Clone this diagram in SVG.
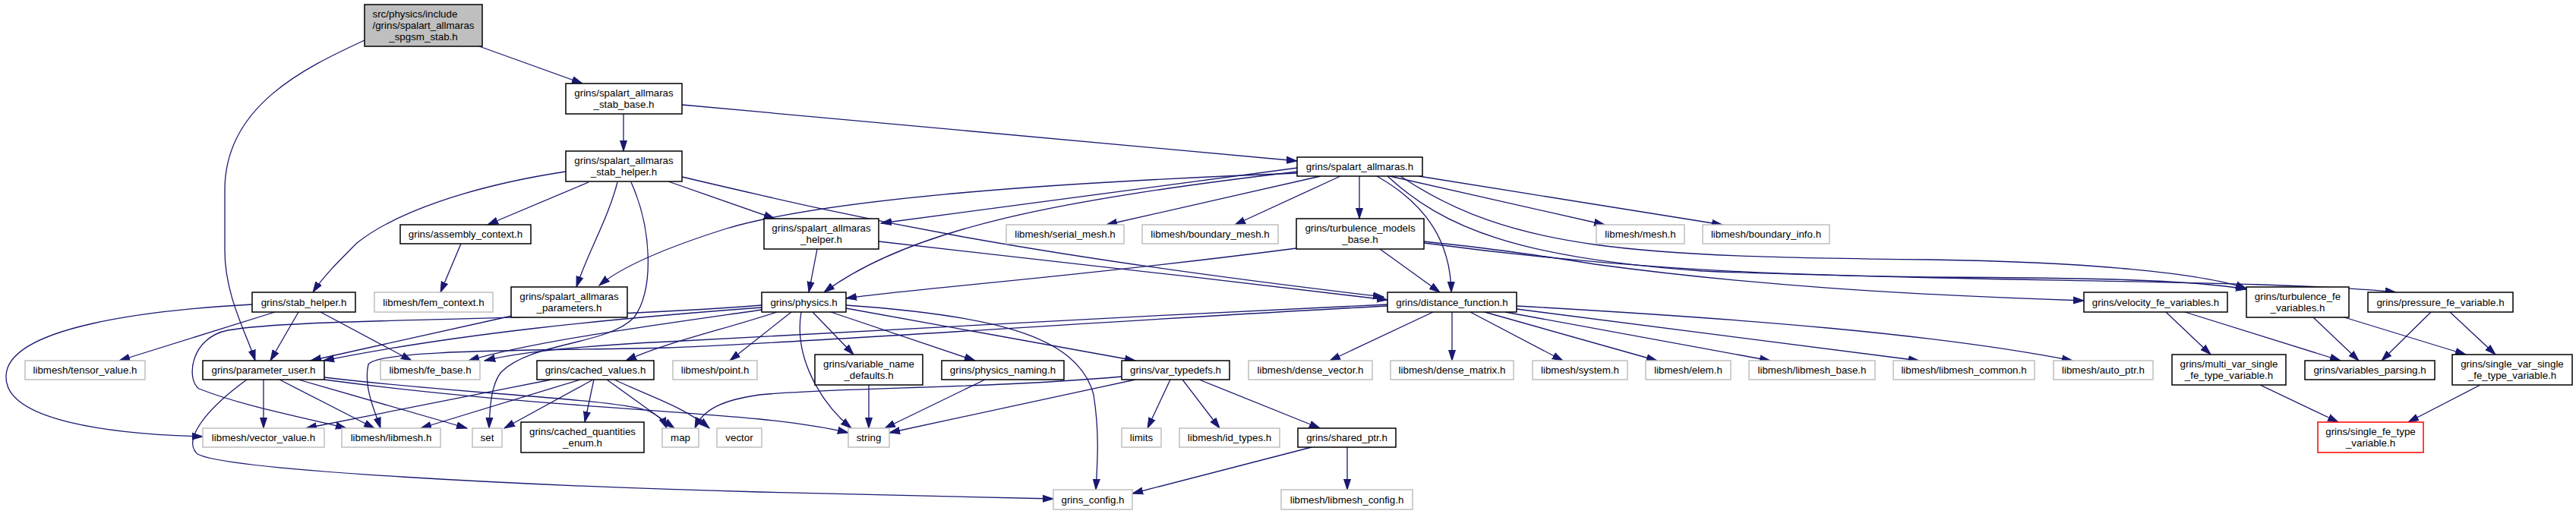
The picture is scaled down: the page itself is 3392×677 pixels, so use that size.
<svg xmlns="http://www.w3.org/2000/svg" width="3392" height="677" viewBox="0 0 3392 677">
<style>
text{font-family:"Liberation Sans",Arial,sans-serif;font-size:13.33px;fill:#000;text-anchor:middle}
.node rect{fill:#fff;stroke:#000;stroke-width:1.5}
.node.ext rect{stroke:#bfbfbf}
.node.root rect{fill:#bfbfbf}
.node.trunc rect{stroke:#ff0000}
#edges path{fill:none;stroke:#191970;stroke-width:1.3;marker-end:url(#arr)}
</style>
<defs>
<marker id="arr" markerUnits="userSpaceOnUse" markerWidth="15" markerHeight="11" refX="14" refY="5.5" orient="auto">
<path d="M0,1 L14,5.5 L0,10 z" fill="#191970" stroke="#191970" stroke-width="1"/>
</marker>
</defs>
<rect width="3392" height="677" fill="#fff"/>
<g id="edges">
<path d="M631,61 L767,110"/>
<path d="M480,53 C400,90 296,140 296,250 L296,330 C296,390 325,440 336,475"/>
<path d="M821,150 L821,199"/>
<path d="M898,138 L1708,212"/>
<path d="M775,240 L642,296"/>
<path d="M745,226 C620,245 520,280 470,320 C445,345 425,365 412,385"/>
<path d="M813,240 C800,290 775,330 759,378"/>
<path d="M880,239 L1020,288"/>
<path d="M898,233 C1100,280 1300,330 1822,391"/>
<path d="M831,240 C858,300 862,380 835,418 C800,455 700,450 660,490 C648,505 645,530 644,564"/>
<path d="M1709,228 C1400,240 1100,260 960,300 C880,325 820,350 789,376"/>
<path d="M1709,221 L1160,294"/>
<path d="M1709,226 C1400,262 1200,300 1085,385"/>
<path d="M1739,232 L1457,296"/>
<path d="M1765,232 L1626,296"/>
<path d="M1790,232 L1790,288"/>
<path d="M1813,232 C1880,270 1910,320 1911,385"/>
<path d="M1830,232 L2113,296"/>
<path d="M1868,232 L2268,296"/>
<path d="M1844,232 C1990,330 2150,338 2542,342 C2750,345 2900,360 2958,380"/>
<path d="M1827,232 C1900,300 2000,340 2242,357 C2600,372 3000,368 3155,385"/>
<path d="M1875,320 C2100,350 2300,362 2542,365 C2750,366 2880,368 2958,381"/>
<path d="M1875,318 C1950,326 2000,332 2100,348 C2300,375 2500,388 2744,396"/>
<path d="M1707,327 C1400,367 1200,380 1114,393"/>
<path d="M1817,328 L1896,385"/>
<path d="M1076,328 L1065,385"/>
<path d="M1157,318 C1400,345 1600,368 1827,395"/>
<path d="M1042,411 L961,475"/>
<path d="M1070,411 L1124,467"/>
<path d="M1094,411 L1284,475"/>
<path d="M1114,406 L1495,475"/>
<path d="M1055,411 C1045,470 1080,530 1121,564"/>
<path d="M1114,402 C1300,415 1420,440 1440,520 C1448,570 1445,610 1443,645"/>
<path d="M1023,411 C950,435 880,450 824,475"/>
<path d="M1003,405 C800,420 600,440 426,475"/>
<path d="M1003,408 C850,430 700,450 617,475"/>
<path d="M1003,402 C700,425 400,418 300,435 C250,445 245,500 262,512 C320,535 400,550 456,564"/>
<path d="M1887,411 L1751,475"/>
<path d="M1912,411 L1912,475"/>
<path d="M1936,411 L2058,475"/>
<path d="M1955,411 L2182,475"/>
<path d="M1982,411 L2331,475"/>
<path d="M1997,407 L2527,475"/>
<path d="M1997,403 C2300,420 2550,440 2729,475"/>
<path d="M1827,401 C1500,415 1100,440 880,450 C750,456 680,465 638,475"/>
<path d="M1827,403 C1500,420 1000,455 880,458 C700,462 500,460 485,480 C478,510 495,545 501,564"/>
<path d="M362,411 L157,475"/>
<path d="M393,411 L356,475"/>
<path d="M422,411 L542,475"/>
<path d="M332,401 C200,408 10,430 8,495 C5,555 150,572 267,575"/>
<path d="M674,416 L409,475"/>
<path d="M347,500 L347,564"/>
<path d="M368,500 L493,564"/>
<path d="M393,500 L615,564"/>
<path d="M427,497 C600,518 800,525 850,540 C865,545 874,555 878,564"/>
<path d="M427,500 C650,530 850,538 1000,552 C1060,558 1100,566 1117,570"/>
<path d="M325,500 C270,540 240,580 260,598 C300,620 700,640 1000,648 C1200,652 1300,655 1387,657"/>
<path d="M726,500 L403,564"/>
<path d="M764,500 L554,564"/>
<path d="M781,500 L664,564"/>
<path d="M782,500 L770,556"/>
<path d="M799,500 L888,564"/>
<path d="M809,500 C850,520 900,535 934,564"/>
<path d="M1495,500 L1171,570"/>
<path d="M1477,496 C1300,512 1100,510 1000,520 C950,527 925,540 915,564"/>
<path d="M1541,500 L1511,564"/>
<path d="M1557,500 L1606,564"/>
<path d="M1579,500 L1738,564"/>
<path d="M1144,507 L1144,564"/>
<path d="M1297,500 L1165,564"/>
<path d="M1727,589 L1491,650"/>
<path d="M1774,589 L1774,645"/>
<path d="M607,321 L580,385"/>
<path d="M2852,411 L2911,467"/>
<path d="M2877,411 L3082,475"/>
<path d="M3046,418 L3106,475"/>
<path d="M3087,418 L3247,467"/>
<path d="M3201,411 L3136,475"/>
<path d="M3226,411 L3286,467"/>
<path d="M2976,507 L3079,556"/>
<path d="M3266,507 L3171,556"/>
</g>
<g id="nodes">
<g id="n_root" class="node root"><rect x="480" y="6" width="155" height="55"/><text x="490.5" y="22.5" style="text-anchor:start">src/physics/include</text><text x="557.5" y="37.5">/grins/spalart_allmaras</text><text x="557.5" y="52.5">_spgsm_stab.h</text></g>
<g id="n_stabbase" class="node"><rect x="745" y="110" width="153" height="40"/><text x="821.5" y="126.5">grins/spalart_allmaras</text><text x="821.5" y="141.5">_stab_base.h</text></g>
<g id="n_stabhelper" class="node"><rect x="745" y="199" width="153" height="40"/><text x="821.5" y="215.5">grins/spalart_allmaras</text><text x="821.5" y="230.5">_stab_helper.h</text></g>
<g id="n_sa" class="node"><rect x="1708" y="207" width="165" height="25"/><text x="1790.5" y="224">grins/spalart_allmaras.h</text></g>
<g id="n_asm" class="node"><rect x="527" y="296" width="172" height="25"/><text x="613" y="313">grins/assembly_context.h</text></g>
<g id="n_sahelper" class="node"><rect x="1006" y="288" width="151" height="40"/><text x="1081.5" y="304.5">grins/spalart_allmaras</text><text x="1081.5" y="319.5">_helper.h</text></g>
<g id="n_serial" class="node ext"><rect x="1325" y="296" width="155" height="25"/><text x="1402.5" y="313">libmesh/serial_mesh.h</text></g>
<g id="n_bmesh" class="node ext"><rect x="1504" y="296" width="179" height="25"/><text x="1593.5" y="313">libmesh/boundary_mesh.h</text></g>
<g id="n_tmb" class="node"><rect x="1707" y="288" width="168" height="40"/><text x="1791" y="304.5">grins/turbulence_models</text><text x="1791" y="319.5">_base.h</text></g>
<g id="n_mesh" class="node ext"><rect x="2102" y="296" width="116" height="25"/><text x="2160" y="313">libmesh/mesh.h</text></g>
<g id="n_binfo" class="node ext"><rect x="2242" y="296" width="167" height="25"/><text x="2325.5" y="313">libmesh/boundary_info.h</text></g>
<g id="n_stabh" class="node"><rect x="332" y="385" width="136" height="26"/><text x="400" y="402.7">grins/stab_helper.h</text></g>
<g id="n_fem" class="node ext"><rect x="493" y="385" width="156" height="26"/><text x="571" y="402.7">libmesh/fem_context.h</text></g>
<g id="n_params" class="node"><rect x="673" y="378" width="153" height="40"/><text x="749.5" y="394.5">grins/spalart_allmaras</text><text x="749.5" y="409.5">_parameters.h</text></g>
<g id="n_physics" class="node"><rect x="1003" y="385" width="111" height="26"/><text x="1058.5" y="402.7">grins/physics.h</text></g>
<g id="n_dist" class="node"><rect x="1827" y="385" width="170" height="26"/><text x="1912" y="402.7">grins/distance_function.h</text></g>
<g id="n_vel" class="node"><rect x="2744" y="385" width="189" height="26"/><text x="2838.5" y="402.7">grins/velocity_fe_variables.h</text></g>
<g id="n_turbfe" class="node"><rect x="2958" y="378" width="135" height="40"/><text x="3025.5" y="394.5">grins/turbulence_fe</text><text x="3025.5" y="409.5">_variables.h</text></g>
<g id="n_press" class="node"><rect x="3118" y="385" width="191" height="26"/><text x="3213.5" y="402.7">grins/pressure_fe_variable.h</text></g>
<g id="n_tensor" class="node ext"><rect x="33" y="475" width="158" height="25"/><text x="112" y="492">libmesh/tensor_value.h</text></g>
<g id="n_puser" class="node"><rect x="267" y="475" width="160" height="25"/><text x="347" y="492">grins/parameter_user.h</text></g>
<g id="n_febase" class="node ext"><rect x="501" y="475" width="131" height="25"/><text x="566.5" y="492">libmesh/fe_base.h</text></g>
<g id="n_cached" class="node"><rect x="707" y="475" width="154" height="25"/><text x="784" y="492">grins/cached_values.h</text></g>
<g id="n_point" class="node ext"><rect x="886" y="475" width="111" height="25"/><text x="941.5" y="492">libmesh/point.h</text></g>
<g id="n_vnd" class="node"><rect x="1073" y="467" width="142" height="40"/><text x="1144" y="483.5">grins/variable_name</text><text x="1144" y="498.5">_defaults.h</text></g>
<g id="n_pnaming" class="node"><rect x="1240" y="475" width="161" height="25"/><text x="1320.5" y="492">grins/physics_naming.h</text></g>
<g id="n_vtd" class="node"><rect x="1477" y="475" width="142" height="25"/><text x="1548" y="492">grins/var_typedefs.h</text></g>
<g id="n_dvec" class="node ext"><rect x="1644" y="475" width="163" height="25"/><text x="1725.5" y="492">libmesh/dense_vector.h</text></g>
<g id="n_dmat" class="node ext"><rect x="1831" y="475" width="162" height="25"/><text x="1912" y="492">libmesh/dense_matrix.h</text></g>
<g id="n_system" class="node ext"><rect x="2018" y="475" width="125" height="25"/><text x="2080.5" y="492">libmesh/system.h</text></g>
<g id="n_elem" class="node ext"><rect x="2167" y="475" width="112" height="25"/><text x="2223" y="492">libmesh/elem.h</text></g>
<g id="n_lbase" class="node ext"><rect x="2303" y="475" width="166" height="25"/><text x="2386" y="492">libmesh/libmesh_base.h</text></g>
<g id="n_lcommon" class="node ext"><rect x="2493" y="475" width="186" height="25"/><text x="2586" y="492">libmesh/libmesh_common.h</text></g>
<g id="n_autoptr" class="node ext"><rect x="2704" y="475" width="131" height="25"/><text x="2769.5" y="492">libmesh/auto_ptr.h</text></g>
<g id="n_multivar" class="node"><rect x="2860" y="467" width="150" height="40"/><text x="2935" y="483.5">grins/multi_var_single</text><text x="2935" y="498.5">_fe_type_variable.h</text></g>
<g id="n_vparse" class="node"><rect x="3035" y="475" width="171" height="25"/><text x="3120.5" y="492">grins/variables_parsing.h</text></g>
<g id="n_singlevar" class="node"><rect x="3229" y="467" width="158" height="40"/><text x="3308" y="483.5">grins/single_var_single</text><text x="3308" y="498.5">_fe_type_variable.h</text></g>
<g id="n_vecval" class="node ext"><rect x="267" y="564" width="160" height="25"/><text x="347" y="581">libmesh/vector_value.h</text></g>
<g id="n_libmesh" class="node ext"><rect x="450" y="564" width="130" height="25"/><text x="515" y="581">libmesh/libmesh.h</text></g>
<g id="n_set" class="node ext"><rect x="622" y="564" width="39" height="25"/><text x="641.5" y="581">set</text></g>
<g id="n_cqe" class="node"><rect x="686" y="556" width="162" height="40"/><text x="767" y="572.5">grins/cached_quantities</text><text x="767" y="587.5">_enum.h</text></g>
<g id="n_map" class="node ext"><rect x="872" y="564" width="48" height="25"/><text x="896" y="581">map</text></g>
<g id="n_vector" class="node ext"><rect x="944" y="564" width="59" height="25"/><text x="973.5" y="581">vector</text></g>
<g id="n_string" class="node ext"><rect x="1117" y="564" width="54" height="25"/><text x="1144" y="581">string</text></g>
<g id="n_limits" class="node ext"><rect x="1477" y="564" width="52" height="25"/><text x="1503" y="581">limits</text></g>
<g id="n_idtypes" class="node ext"><rect x="1553" y="564" width="132" height="25"/><text x="1619" y="581">libmesh/id_types.h</text></g>
<g id="n_sharedptr" class="node"><rect x="1709" y="564" width="129" height="25"/><text x="1773.5" y="581">grins/shared_ptr.h</text></g>
<g id="n_sfte" class="node trunc"><rect x="3052" y="556" width="139" height="40"/><text x="3121.5" y="572.5">grins/single_fe_type</text><text x="3121.5" y="587.5">_variable.h</text></g>
<g id="n_config" class="node ext"><rect x="1387" y="645" width="104" height="26"/><text x="1439" y="662.6">grins_config.h</text></g>
<g id="n_lconfig" class="node ext"><rect x="1687" y="645" width="173" height="26"/><text x="1773.5" y="662.6">libmesh/libmesh_config.h</text></g>
</g>
</svg>
